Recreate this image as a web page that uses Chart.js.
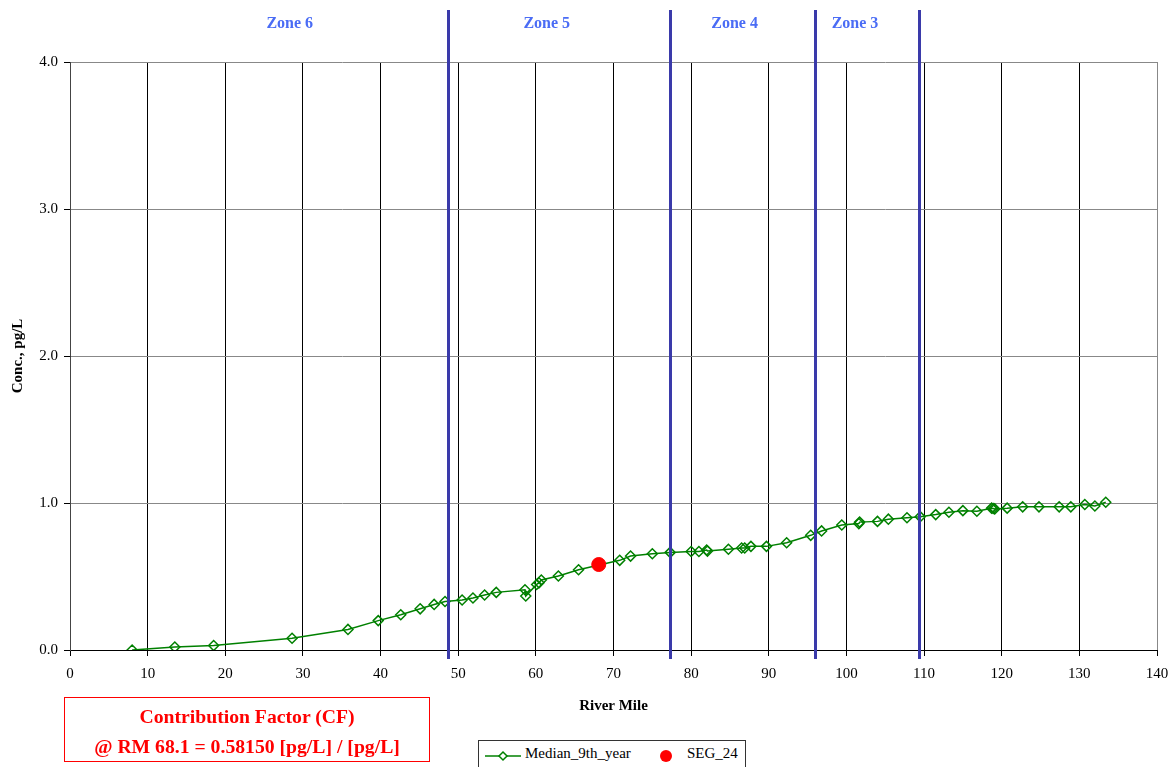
<!DOCTYPE html>
<html>
<head>
<meta charset="utf-8">
<script src="https://cdn.jsdelivr.net/npm/chart.js@4"></script>
<style>
  html, body { margin: 0; padding: 0; background: #fff; }
  #wrap { position: relative; width: 1174px; height: 767px; overflow: hidden; }
  #chart { position: absolute; left: 0; top: 0; }
  .cf-box {
    position: absolute; left: 64px; top: 697px; width: 366px; height: 65px;
    border: 1.5px solid #ff0000; box-sizing: border-box;
    color: #ff0000; font: bold 19.7px "Liberation Serif", serif;
    text-align: center; line-height: 30px; padding-top: 3px;
  }
  .legend {
    position: absolute; left: 478px; top: 740px; width: 268px; height: 40px;
    border: 1px solid #333; box-sizing: border-box; background: #fff;
    font: 15px "Liberation Serif", serif; color: #000;
  }
  .legend svg { position: absolute; left: 0; top: 0; }
  .legend span { position: absolute; top: 4px; }
</style>
</head>
<body>
<div id="wrap">
  <canvas id="chart" width="1174" height="767"></canvas>
  <div class="cf-box">Contribution Factor (CF)<br>@ RM 68.1 = 0.58150 [pg/L] / [pg/L]</div>
  <div class="legend">
    <svg width="268" height="30">
      <line x1="6" y1="15" x2="42" y2="15" stroke="#008000" stroke-width="1.5"/>
      <polygon points="24,11 28,15 24,19 20,15" fill="#fff" stroke="#008000" stroke-width="1.5"/>
      <circle cx="187" cy="15" r="6" fill="#ff0000"/>
    </svg>
    <span style="left:46px">Median_9th_year</span>
    <span style="left:208px">SEG_24</span>
  </div>
</div>
<script>
/* ── data ── */
const riverMile = [
  8.0, 13.5, 18.5, 28.6, 35.8, 39.7, 42.6, 45.1, 46.9, 48.3,
  50.5, 51.9, 53.4, 54.9, 58.6, 58.7, 60.1, 60.4, 60.7, 62.9,
  65.5, 70.8, 72.2, 75.0, 77.3, 80.0, 81.0, 82.0, 82.1, 84.8,
  86.5, 86.9, 87.7, 89.7, 92.3, 95.4, 96.8, 99.4, 101.6, 101.7,
  104.0, 105.4, 107.8, 109.5, 111.5, 113.2, 115.0, 116.8, 118.7, 118.9,
  119.1, 120.7, 122.7, 124.8, 127.4, 128.9, 130.7, 132.0, 133.4
];
const median9thYear = [
  0.0, 0.02, 0.03, 0.08, 0.14, 0.20, 0.24, 0.28, 0.31, 0.33,
  0.34, 0.354, 0.374, 0.392, 0.41, 0.367, 0.446, 0.457, 0.476, 0.503,
  0.546, 0.61, 0.639, 0.655, 0.664, 0.67, 0.67, 0.68, 0.673, 0.685,
  0.694, 0.694, 0.705, 0.705, 0.73, 0.78, 0.81, 0.85, 0.86, 0.87,
  0.875, 0.89, 0.90, 0.907, 0.921, 0.937, 0.948, 0.944, 0.965, 0.963,
  0.96, 0.965, 0.974, 0.974, 0.974, 0.974, 0.99, 0.98, 1.005
];
const segMile = [68.1];
const segValue = [0.5815];

const zoneBounds = [48.7, 77.3, 96.0, 109.4];
const zoneNames = ['Zone 6', 'Zone 5', 'Zone 4', 'Zone 3'];
const zoneLabelMile = [28.3, 61.4, 85.6, 101.1];

const SERIF = '"Liberation Serif", "Times New Roman", serif';

/* ── zone lines + labels ── */
const zonePlugin = {
  id: 'zones',
  afterDatasetsDraw(chart) {
    const { ctx, scales: { x, y } } = chart;
    ctx.save();
    ctx.strokeStyle = '#3a3aaa';
    ctx.lineWidth = 3;
    zoneBounds.forEach(m => {
      const px = Math.round(x.getPixelForValue(m)) + 0.5;
      ctx.beginPath();
      ctx.moveTo(px, 10);
      ctx.lineTo(px, y.bottom + 9);
      ctx.stroke();
    });
    ctx.fillStyle = '#4a6cf5';
    ctx.font = 'bold 16px ' + SERIF;
    ctx.textAlign = 'center';
    ctx.textBaseline = 'middle';
    zoneNames.forEach((name, i) => {
      ctx.fillText(name, x.getPixelForValue(zoneLabelMile[i]), 24);
    });
    ctx.restore();
  }
};

new Chart(document.getElementById('chart'), {
  type: 'scatter',
  data: {
    datasets: [
      {
        label: 'Median_9th_year',
        data: riverMile.map((m, i) => ({ x: m, y: median9thYear[i] })),
        showLine: true,
        borderColor: '#008000',
        borderWidth: 1.5,
        pointStyle: 'rectRot',
        pointRadius: 5,
        pointBorderWidth: 1.5,
        pointBackgroundColor: 'rgba(255,255,255,0)',
        pointBorderColor: '#008000',
        order: 2
      },
      {
        label: 'SEG_24',
        data: segMile.map((m, i) => ({ x: m, y: segValue[i] })),
        pointStyle: 'circle',
        pointRadius: 7,
        pointBackgroundColor: '#ff0000',
        pointBorderColor: '#ff0000',
        order: 1
      }
    ]
  },
  options: {
    responsive: false,
    animation: false,
    layout: { padding: { left: 0, top: 62, right: 17, bottom: 50 } },
    plugins: { legend: { display: false }, tooltip: { enabled: false } },
    scales: {
      x: {
        type: 'linear', min: 0, max: 140,
        ticks: { stepSize: 10, color: '#000', padding: 9, maxRotation: 0, font: { family: SERIF, size: 15 } },
        grid: {
          color: c => (c.tick && c.tick.value === 140 ? '#888' : '#000'),
          lineWidth: 1, tickLength: 6, tickColor: '#000'
        },
        border: { color: '#000' },
        title: { display: true, text: 'River Mile', color: '#000', padding: { top: 4, bottom: 2 }, font: { family: SERIF, size: 15, weight: 'bold' } },
        afterFit: s => { s.height = 67; s.paddingLeft = 0; s.paddingRight = 0; }
      },
      y: {
        min: 0, max: 4,
        ticks: { stepSize: 1, color: '#000', padding: 6, font: { family: SERIF, size: 15 }, callback: v => v.toFixed(1) },
        grid: { color: '#888', lineWidth: 1, tickLength: 6, tickColor: '#000' },
        border: { color: '#444' },
        title: { display: true, text: 'Conc., pg/L', color: '#000', padding: { top: 9, bottom: 0 }, font: { family: SERIF, size: 15, weight: 'bold' } },
        afterFit: s => { s.width = 70; s.paddingTop = 0; s.paddingBottom = 0; }
      }
    }
  },
  plugins: [zonePlugin]
});
</script>
</body>
</html>
